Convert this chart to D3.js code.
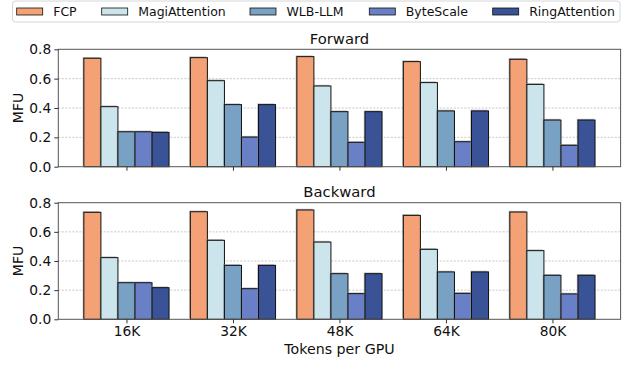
<!DOCTYPE html>
<html><head><meta charset="utf-8">
<script src="https://cdn.jsdelivr.net/npm/d3@7"></script>
<style>body{margin:0;background:#fff}svg{display:block;font-family:"DejaVu Sans",sans-serif}</style>
</head><body><svg id="c" width="629" height="365"></svg>
<script>
const categories = ["16K","32K","48K","64K","80K"];
const seriesNames = ["FCP","MagiAttention","WLB-LLM","ByteScale","RingAttention"];
const colors = ["#F4A275","#CCE4EB","#79A1C3","#6A80C6","#3A5296"];
const forwardFCP = [0.739,0.743,0.750,0.716,0.732];
const forwardMagi = [0.409,0.586,0.550,0.573,0.561];
const forwardWLB = [0.238,0.423,0.375,0.380,0.318];
const forwardByte = [0.238,0.202,0.166,0.170,0.146];
const forwardRing = [0.234,0.423,0.375,0.380,0.318];
const backwardFCP = [0.734,0.738,0.750,0.713,0.736];
const backwardMagi = [0.423,0.542,0.530,0.480,0.471];
const backwardWLB = [0.251,0.370,0.313,0.325,0.302];
const backwardByte = [0.251,0.210,0.176,0.178,0.174];
const backwardRing = [0.217,0.370,0.313,0.325,0.302];
const yTicks = [0.0,0.2,0.4,0.6,0.8];
const panels = [
  {title:"Forward", data:[forwardFCP,forwardMagi,forwardWLB,forwardByte,forwardRing]},
  {title:"Backward", data:[backwardFCP,backwardMagi,backwardWLB,backwardByte,backwardRing]}
];

const svg = d3.select("#c");
const L = 58.3, R = 620.6;
const panelPos = [{top:49.3,bottom:166.7},{top:202.7,bottom:319.3}];
const x = d3.scaleLinear().domain([-0.64,4.64]).range([L,R]);
const bw = 0.16;

panels.forEach((p,pi)=>{
  const pos = panelPos[pi];
  const y = d3.scaleLinear().domain([0,0.8]).range([pos.bottom,pos.top]);
  const g = svg.append("g");
  // grid
  g.selectAll(".grid").data(yTicks.filter(t=>t>0 && t<0.8)).enter().append("line")
    .attr("x1",L).attr("x2",R).attr("y1",d=>y(d)).attr("y2",d=>y(d))
    .attr("stroke","#b0b0b0").attr("stroke-width",0.7).attr("stroke-dasharray","2,1.5");
  // bars
  p.data.forEach((vals,si)=>{
    const off = (si-2)*bw;
    const bars = g.append("g");
    bars.selectAll(".sh").data(vals).enter().append("rect")
      .attr("x",(d,i)=>x(i+off-bw/2)-1.2).attr("y",d=>y(d)-1.2)
      .attr("width",x(bw)-x(0)).attr("height",d=>y(0)-y(d))
      .attr("fill","#888").attr("opacity",0.6);
    bars.selectAll(".b").data(vals).enter().append("rect")
      .attr("x",(d,i)=>x(i+off-bw/2)).attr("y",d=>y(d))
      .attr("width",x(bw)-x(0)).attr("height",d=>y(0)-y(d))
      .attr("fill",colors[si]).attr("stroke","#111").attr("stroke-width",1);
  });
  // frame
  g.append("rect").attr("x",L).attr("y",pos.top).attr("width",R-L).attr("height",pos.bottom-pos.top)
    .attr("fill","none").attr("stroke","#555").attr("stroke-width",1);
  // y axis
  const ya = d3.axisLeft(y).tickValues(yTicks).tickFormat(d3.format(".1f")).tickSize(4).tickPadding(3);
  const yg = g.append("g").attr("transform",`translate(${L},0)`).call(ya);
  yg.select(".domain").remove();
  yg.selectAll("line").attr("stroke","#333");
  yg.selectAll("text").attr("font-size",13.8).attr("fill","#111").attr("font-family","DejaVu Sans");
  // x axis
  const xa = d3.axisBottom(x).tickValues(d3.range(categories.length)).tickFormat(i=>pi===1?categories[i]:"").tickSize(4).tickPadding(3);
  const xg = g.append("g").attr("transform",`translate(0,${pos.bottom})`).call(xa);
  xg.select(".domain").remove();
  xg.selectAll("line").attr("stroke","#333");
  xg.selectAll("text").attr("font-size",13.8).attr("fill","#111").attr("font-family","DejaVu Sans");
  // title
  g.append("text").attr("x",(L+R)/2).attr("y",pos.top-5.5).attr("text-anchor","middle")
    .attr("font-size",14.8).attr("fill","#111").text(p.title);
  // y label
  g.append("text").attr("transform",`translate(23,${(pos.top+pos.bottom)/2}) rotate(-90)`)
    .attr("text-anchor","middle").attr("font-size",14).attr("fill","#111").text("MFU");
});
svg.append("text").attr("x",(L+R)/2).attr("y",354).attr("text-anchor","middle")
  .attr("font-size",14.2).attr("fill","#111").text("Tokens per GPU");

// legend
const lg = svg.append("g");
lg.append("rect").attr("x",12.5).attr("y",1).attr("width",607.5).attr("height",21).attr("rx",3)
  .attr("fill","#fff").attr("stroke","#d6d6d6").attr("stroke-width",1);
const patchX = [16.7,101.7,250,369.3,492.7];
seriesNames.forEach((n,i)=>{
  lg.append("rect").attr("x",patchX[i]).attr("y",8).attr("width",26).attr("height",7)
    .attr("fill",colors[i]).attr("stroke","#111").attr("stroke-width",0.8);
  lg.append("text").attr("x",patchX[i]+36.5).attr("y",16.3).attr("font-size",12.5).attr("fill","#111").text(n);
});
</script></body></html>
